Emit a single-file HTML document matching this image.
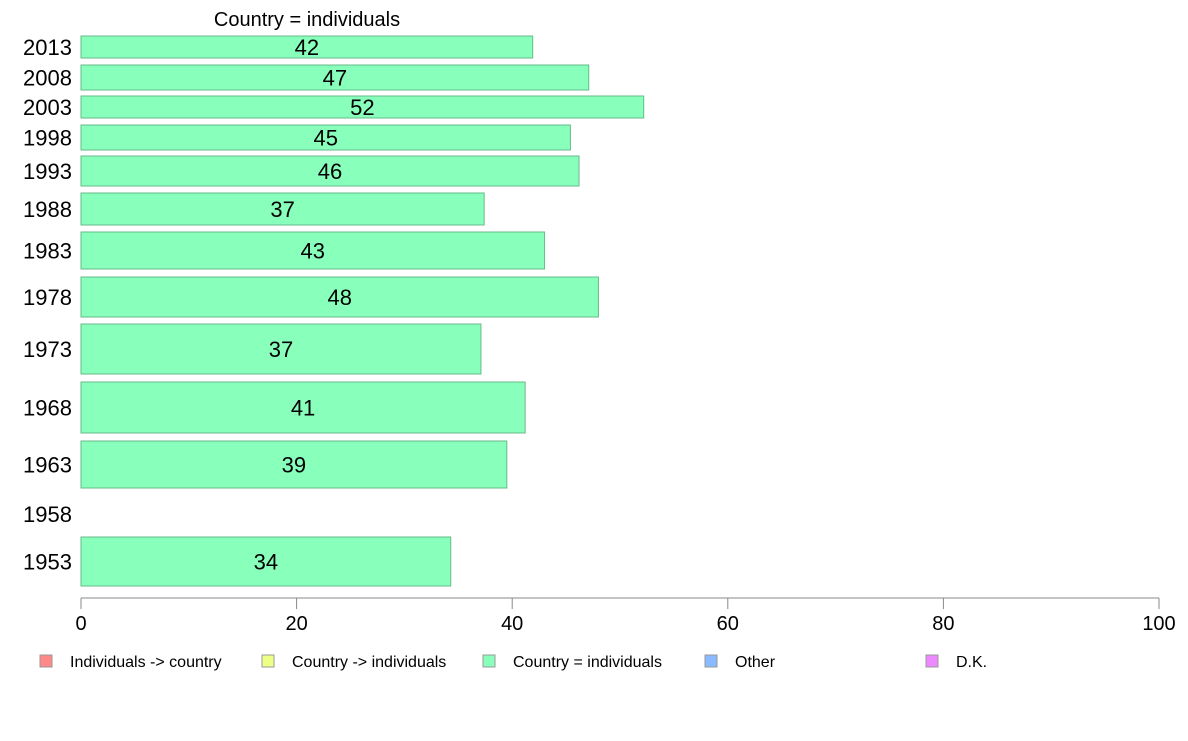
<!DOCTYPE html>
<html><head><meta charset="utf-8"><style>
body{margin:0;background:#fff;font-family:"Liberation Sans",sans-serif}
</style></head><body>
<svg id="chart" width="1188" height="736" xmlns="http://www.w3.org/2000/svg" font-family="Liberation Sans, sans-serif">
<text x="307" y="26" font-size="20" text-anchor="middle">Country = individuals</text>
<g id="bars"></g>
<g id="xaxis"></g>
<g id="legend"></g>
</svg>
<script>
const years = ["2013","2008","2003","1998","1993","1988","1983","1978","1973","1968","1963","1958","1953"];
const values = [42, 47, 52, 45, 46, 37, 43, 48, 37, 41, 39, null, 34];
const barLengths = [41.9, 47.1, 52.2, 45.4, 46.2, 37.4, 43.0, 48.0, 37.1, 41.2, 39.5, null, 34.3];
const xTicks = [0, 20, 40, 60, 80, 100];
const legendLabels = ["Individuals -> country","Country -> individuals","Country = individuals","Other","D.K."];
const legendColors = ["#ff8888","#eeff88","#88ffbb","#88bbff","#ee88ff"];
// layout (row bands in pixels)
const rowTop = [36,65,96,125,156,193,232,277,324,382,441,500,537];
const rowBot = [58,90,118,150,186,225,269,317,374,433,488,528,586];
const NS="http://www.w3.org/2000/svg";
const x = v => 81 + v * 10.78;
function mk(tag, attrs, parent){const e=document.createElementNS(NS,tag);for(const k in attrs)e.setAttribute(k,attrs[k]);parent.appendChild(e);return e;}
const bars=document.getElementById('bars');
years.forEach((yr,i)=>{
  const cy=(rowTop[i]+rowBot[i])/2;
  const t=mk('text',{x:72,y:cy+8,'font-size':22,'text-anchor':'end'},bars);
  
  
  t.textContent=yr;
  if(barLengths[i]==null) return;
  const r=mk('rect',{x:x(0),y:rowTop[i],width:x(barLengths[i])-x(0),height:rowBot[i]-rowTop[i],fill:'#88ffbb',stroke:'#66bb88','stroke-width':1},bars);
  
  
  const v=mk('text',{x:(x(0)+x(barLengths[i]))/2,y:cy+8,'font-size':22,'text-anchor':'middle'},bars);
  
  
  v.textContent=values[i];
});
const ax=document.getElementById('xaxis');
const line=mk('line',{x1:x(0),x2:x(100),y1:598,y2:598,stroke:'#888'},ax);


xTicks.forEach(t=>{
  const tk=mk('line',{x1:x(t),x2:x(t),y1:598,y2:609,stroke:'#888'},ax);
  
  
  const lb=mk('text',{x:x(t),y:630,'font-size':20,'text-anchor':'middle'},ax);
  
  
  lb.textContent=t;
});
const lg=document.getElementById('legend');
const lx=[40,262,483,705,926];
legendLabels.forEach((l,i)=>{
  const s=mk('rect',{x:lx[i],y:655,width:12,height:12,fill:legendColors[i],stroke:'#999'},lg);
  
  
  const t=mk('text',{x:lx[i]+30,y:667,'font-size':16},lg);
  
  
  t.textContent=l;
});
</script>
</body></html>
